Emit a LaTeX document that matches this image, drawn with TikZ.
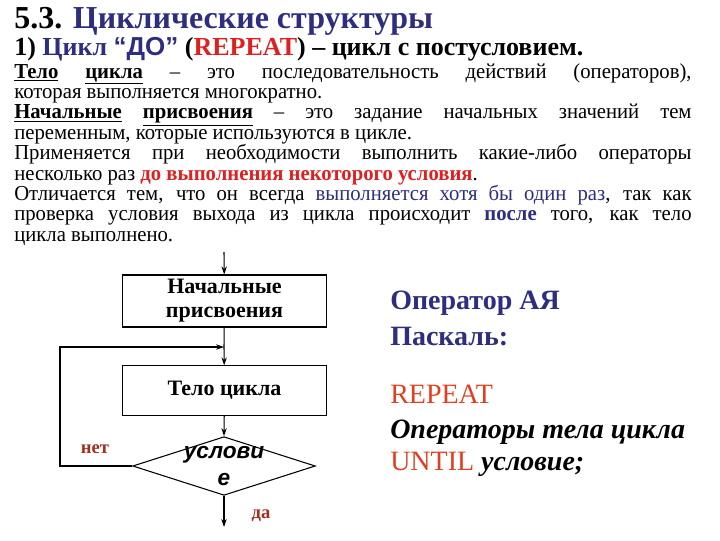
\documentclass[tikz,border=0pt]{standalone}
\usepackage{fontspec}
\setmainfont{Liberation Serif}
\setsansfont{Liberation Sans}
\newfontfamily\narrow[FakeStretch=0.97]{Liberation Serif}
\usetikzlibrary{shapes.geometric,arrows.meta}
\definecolor{tblue}{HTML}{2E2E80}
\definecolor{tred}{HTML}{E02020}
\definecolor{dred}{HTML}{A03020}
\definecolor{ored}{HTML}{E04020}
\tikzset{
 box/.style={draw,thick,minimum width=153pt,minimum height=37pt,align=center,font=\fontsize{16.5}{17}\selectfont\bfseries},
 arr/.style={thick,-{Stealth[length=6pt,width=4pt]}},
 lbl/.style={font=\fontsize{14}{15}\selectfont\bfseries,text=dred},
 rt/.style={anchor=base west,inner sep=0pt,font=\fontsize{21}{22}\selectfont},
}
\begin{document}
\begin{tikzpicture}[x=0.75pt,y=-0.75pt]
\useasboundingbox (0,0) rectangle (720,540);
\node[anchor=base west,inner sep=0pt,font=\fontsize{24}{26}\selectfont\bfseries] (title) at (14,28) {5.3. \textcolor{tblue}{Циклические структуры}};
\node[anchor=base west,inner sep=0pt,font=\fontsize{19.5}{20}\selectfont\bfseries] (sub) at (14,55) {1) \textcolor{tblue}{Цикл {\sffamily “ДО”}} (\textcolor{tred}{REPEAT}) – цикл с постусловием.};
\node[anchor=north west,inner sep=0pt,text width=508pt,align=justify,font=\narrow\fontsize{16}{15.3}\selectfont] (body) at (14,63) {%
\textbf{\underline{Тело} \underline{цикла}} – это последовательность действий (операторов),\linebreak которая выполняется многократно.\par
\textbf{\underline{Начальные} \underline{присвоения}} – это задание начальных значений тем\linebreak переменным, которые используются в цикле.\par
Применяется при необходимости выполнить какие-либо операторы\linebreak несколько раз \textcolor{tred}{\textbf{до выполнения некоторого условия}}.\par
Отличается тем, что он всегда \textcolor{tblue}{выполняется хотя бы один раз}, так как\linebreak проверка условия выхода из цикла происходит \textcolor{tblue}{\textbf{после}} того, как тело\linebreak цикла выполнено.};
\node[box] (init) at (224.5,301) {Начальные\\[1pt]присвоения};
\node[box] (loop) at (224.5,390.5) {Тело цикла};
\node[draw,thick,diamond,aspect=3.1,minimum width=137pt,minimum height=44pt,inner sep=0pt] (cond) at (224,466) {};
\node[font=\fontsize{17}{20}\selectfont\sffamily\bfseries\itshape,align=center] at (224,466) {услови\\е};
\coordinate (in) at (224,252);
\coordinate (join) at (224,347);
\coordinate (left) at (60,466);
\coordinate (leftT) at (60,347);
\coordinate (out) at (224,527);
\draw[arr] (in) -- (init);
\draw[thick] (init) -- (join);
\draw[arr] (join) -- (loop);
\draw[arr] (loop) -- (cond.north);
\draw[arr] (cond.west) -- (left) -- (leftT) -- (join);
\draw[arr] (cond.south) -- (out);
\node[lbl] (net) at (95,449) {нет};
\node[lbl] (da) at (261,516) {да};
\node[rt,text=tblue,font=\fontsize{21}{22}\selectfont\bfseries] (r1) at (390,309) {Оператор АЯ};
\node[rt,text=tblue,font=\fontsize{21}{22}\selectfont\bfseries] (r2) at (390,345) {Паскаль:};
\node[rt,text=ored] (r3) at (390,403) {REPEAT};
\node[rt,font=\fontsize{21}{22}\selectfont\bfseries\itshape] (r4) at (390,438) {Операторы тела цикла};
\node[rt] (r5) at (390,470) {\textcolor{ored}{UNTIL} \textbf{\itshape условие;}};
\end{tikzpicture}
\end{document}
